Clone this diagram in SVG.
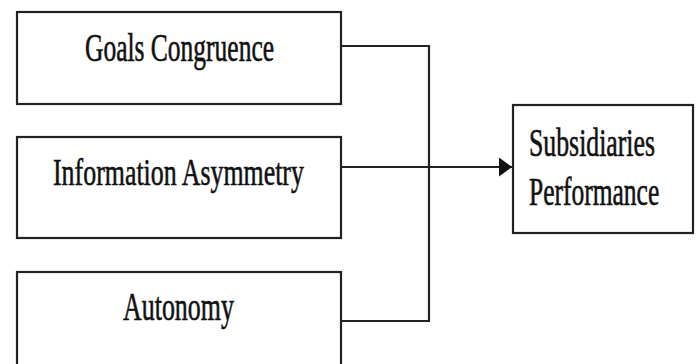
<svg xmlns="http://www.w3.org/2000/svg" width="697" height="364" viewBox="0 0 697 364">
<style>
.box{fill:#fff;stroke:#222;stroke-width:2.2}
.lbl{font-family:"Liberation Serif","Times New Roman",serif;font-size:39px;fill:#111;stroke:#111;stroke-width:0.6}
.ln{fill:none;stroke:#222;stroke-width:2.2}
</style>
<defs>
<marker id="ah" markerWidth="14" markerHeight="20" refX="13" refY="9.5" orient="auto" markerUnits="userSpaceOnUse">
<path d="M0,0 L13,9.5 L0,19 Z" fill="#111"/>
</marker>
</defs>
<rect width="697" height="364" fill="#fff"/>
<g id="connectors">
<path class="ln" d="M341,46 H429 V321 H341"/>
<path class="ln" d="M341,167 H512" marker-end="url(#ah)"/>
</g>
<g id="goals">
<rect class="box" x="17" y="12" width="324" height="92"/>
<text class="lbl" transform="translate(85,61) scale(0.654,1)">Goals Congruence</text>
</g>
<g id="info">
<rect class="box" x="17" y="137" width="324" height="101"/>
<text class="lbl" transform="translate(53,185) scale(0.664,1)">Information Asymmetry</text>
</g>
<g id="autonomy">
<rect class="box" x="17" y="272" width="324" height="100"/>
<text class="lbl" transform="translate(123,320) scale(0.665,1)">Autonomy</text>
</g>
<g id="performance">
<rect class="box" x="513" y="105" width="180" height="128"/>
<text class="lbl" transform="translate(529,156) scale(0.661,1)">Subsidiaries</text>
<text class="lbl" transform="translate(529,205) scale(0.654,1)">Performance</text>
</g>
</svg>
